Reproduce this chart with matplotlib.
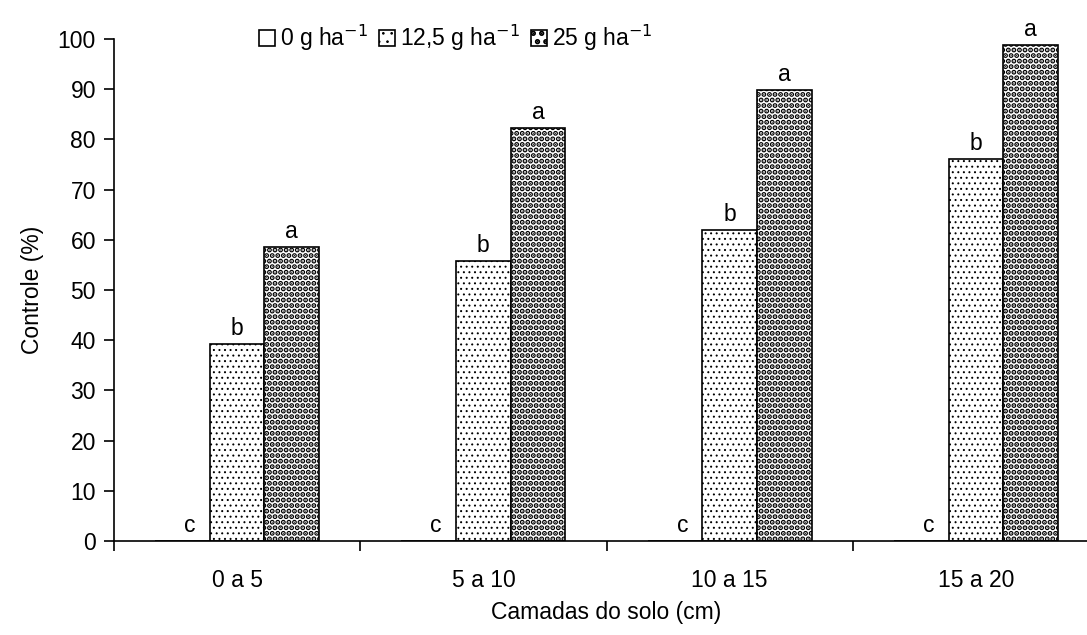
import matplotlib
matplotlib.use("Agg")
import matplotlib.pyplot as plt
import numpy as np
from matplotlib.patches import Patch

plt.rcParams['font.family'] = ['Liberation Sans Narrow', 'Liberation Sans', 'DejaVu Sans']

camadas = ['0 a 5', '5 a 10', '10 a 15', '15 a 20']
doses = ['0 g ha$^{-1}$', '12,5 g ha$^{-1}$', '25 g ha$^{-1}$']
controle_0 = [0, 0, 0, 0]
controle_125 = [39.3, 55.7, 62.0, 76.0]
controle_25 = [58.6, 82.3, 89.8, 98.8]
letras_0 = ['c', 'c', 'c', 'c']
letras_125 = ['b', 'b', 'b', 'b']
letras_25 = ['a', 'a', 'a', 'a']

fs = 16.5
fig = plt.figure(figsize=(10.87, 6.35), dpi=100)
ax = fig.add_axes([114/1087, 94/635, 985/1087, 502/635])

x = np.arange(len(camadas))
w = 1 / 4.5
series = [controle_0, controle_125, controle_25]
letras = [letras_0, letras_125, letras_25]
hatches = ['', '...', '...']
hlw = [0.7, 0.7, 2.6]


def set_hlw(patch, lw):
    if hasattr(patch, 'set_hatch_linewidth'):
        patch.set_hatch_linewidth(lw)


for i, (vals, lab) in enumerate(zip(series, letras)):
    pos = x + (i - 1) * w
    bars = ax.bar(pos, vals, w, color='white', edgecolor='black', linewidth=1.2,
                  hatch=hatches[i])
    for b in bars:
        set_hlw(b, hlw[i])
    for p, v, t in zip(pos, vals, lab):
        ax.text(p + (0.03 if v == 0 else 0), v + 0.8, t, ha='center', va='bottom', fontsize=fs)

ax.set_xlim(-0.5, len(camadas) - 0.5)
ax.set_ylim(0, 100)
ax.set_yticks(np.arange(0, 101, 10))
ax.set_xticks(x)
ax.set_xticklabels(camadas)
ax.set_xticks(np.arange(-0.5, len(camadas), 1), minor=True)
ax.tick_params(axis='x', which='major', length=0, pad=20, labelsize=fs)
ax.tick_params(axis='x', which='minor', length=7, width=1.2, direction='out')
ax.tick_params(axis='y', length=7, width=1.2, direction='out', labelsize=fs, pad=6)
for s in ['top', 'right']:
    ax.spines[s].set_visible(False)
for s in ['left', 'bottom']:
    ax.spines[s].set_linewidth(1.2)

ax.set_ylabel('Controle (%)', fontsize=fs, labelpad=10)
ax.set_xlabel('Camadas do solo (cm)', fontsize=fs, labelpad=7)

handles = []
for i in range(3):
    h = Patch(facecolor='white', edgecolor='black', hatch=hatches[i][:2], linewidth=1.2)
    set_hlw(h, hlw[i])
    handles.append(h)
leg = fig.legend(handles, doses, loc='center', bbox_to_anchor=(456/1087, 1 - 38/635), ncol=3,
                 frameon=False, fontsize=fs, handlelength=0.7, handleheight=0.7,
                 handletextpad=0.2, columnspacing=0.5)
for h, lw in zip(leg.get_patches(), hlw):
    set_hlw(h, lw)

fig.savefig('out.png', dpi=100)
